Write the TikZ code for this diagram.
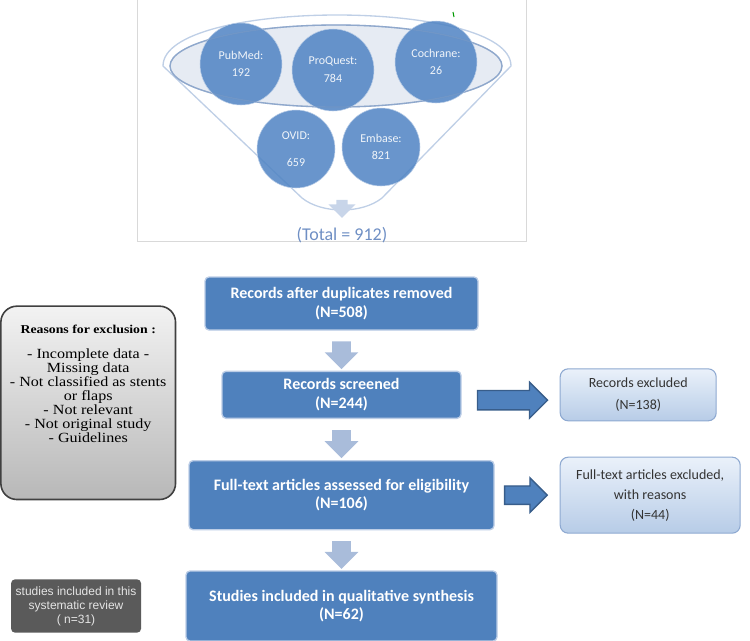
\documentclass[tikz,border=0pt]{standalone}
\usepackage{fontspec}
\setmainfont{Carlito}
\newfontfamily\reasonfont{Liberation Serif}[FakeStretch=1.15]
\newfontfamily\notefont{Liberation Sans}
\usepackage{tikz}
\usetikzlibrary{positioning,shapes.arrows}

\definecolor{boxblue}{HTML}{4F81BD}
\definecolor{edgeblue}{HTML}{BCCDE6}
\definecolor{arrdark}{HTML}{385D8A}
\definecolor{arrlight}{HTML}{A9BCDA}
\definecolor{funarr}{HTML}{C8D5E9}
\definecolor{funline}{HTML}{BFCFE6}
\definecolor{ellfill}{HTML}{E6EBF3}
\definecolor{elledge}{HTML}{8FA8CC}
\definecolor{dbblue}{HTML}{4F83C3}
\definecolor{totalblue}{HTML}{6F8FC4}
\definecolor{exctop}{HTML}{EAF1FA}
\definecolor{excbot}{HTML}{B7CCE7}
\definecolor{excedge}{HTML}{8EA9D1}
\definecolor{framegray}{HTML}{D9D9D9}
\definecolor{notegray}{HTML}{5A5A5A}

\begin{document}
\begin{tikzpicture}[
        x=0.75pt, y=-0.75pt,
        stage/.style={draw=edgeblue, line width=1pt, fill=boxblue, rounded corners=3pt, align=center,
            text=white, font=\fontsize{12}{14}\selectfont\bfseries},
        excl/.style={draw=excedge, line width=0.8pt, top color=exctop, bottom color=excbot, rounded corners=6pt,
            align=center, text=black!80, font=\fontsize{10.5}{15}\selectfont},
        reasonbox/.style={draw=black!75, line width=1.2pt, top color=black!5, bottom color=black!28, rounded corners=12pt,
            align=center, font=\reasonfont\fontsize{10.5}{10.5}\selectfont},
        note/.style={fill=notegray, rounded corners=3pt, align=center, text=black!10,
            font=\notefont\fontsize{9}{10.5}\selectfont},
        db/.style={circle, draw=white!60!dbblue, fill=dbblue, fill opacity=0.85, text opacity=1, text=white!92!dbblue,
            align=center, minimum size=61.5pt, inner sep=0pt, font=\fontsize{9}{13}\selectfont},
        downarr/.style={single arrow, shape border rotate=270, fill=arrlight, minimum height=20pt, minimum width=25pt,
            single arrow head extend=5.75pt, inner sep=6.75pt},
        sidearr/.style={single arrow, draw=arrdark, fill=boxblue, line width=1pt}
    ]
        \useasboundingbox (0,0) rectangle (750,640);

        % funnel of the searched databases
        \draw[framegray] (137,0) -- (137,241) -- (526,241) -- (526,0);
        \draw[funline, line width=1pt] (163,66) .. controls (163,-2) and (511,-2) .. (511,66)
            -- (382,198) .. controls (362,214) and (322,214) .. (302,198) -- cycle;
        \draw[elledge, fill=ellfill, line width=1pt] (336,66) ellipse[x radius=166, y radius=41];
        \draw[green!60!black, line width=0.8pt] (453,12) -- (454,17);

        \node[db] (pubmed) at (241,64) {PubMed:\\192};
        \node[db] (proquest) at (333,70) {ProQuest:\\[0.5pt]784};
        \node[db] (cochrane) at (436,62) {Cochrane:\\26};
        \node[db, minimum size=58.5pt] (ovid) at (296,149) {OVID:\\[7pt]659};
        \node[db, minimum size=58.5pt] (embase) at (381,147) {Embase:\\821};
        \draw[elledge, opacity=0.45, line width=1pt] (336,66) ellipse[x radius=166, y radius=41];
        \node[downarr, fill=funarr, minimum height=13.5pt, minimum width=20pt, single arrow head extend=5.9pt, inner sep=4.1pt] (funnel) at (342,206) {};
        \node[font=\fontsize{13.5}{15}\selectfont, text=totalblue] (total) at (342,235) {(Total = 912)};

        % main flow
        \node[stage, minimum width=204.75pt, minimum height=39.75pt] (rec) at (341.5,303.5) {Records after duplicates removed\\(N=508)};
        \node[stage, below=30pt of rec, minimum width=179.25pt, minimum height=35.25pt] (scr) {Records screened\\(N=244)};
        \node[stage, below=30.75pt of scr, minimum width=228.75pt, minimum height=51.75pt] (full) {Full-text articles assessed for eligibility\\(N=106)};
        \node[stage, below=30pt of full, minimum width=233.25pt, minimum height=52.5pt] (incl) {Studies included in qualitative synthesis\\(N=62)};

        \node[excl, right=73.5pt of scr, minimum width=117pt, minimum height=39pt] (rex) {Records excluded\\[1.5pt](N=138)};
        \node[excl, right=48.75pt of full, minimum width=135pt, minimum height=57pt] (ftex) {Full-text articles excluded,\\with reasons\\(N=44)};

        \node[reasonbox, left=33.75pt of scr, yshift=-6pt, minimum width=131pt, minimum height=145pt] (why)
            {{\fontsize{9}{10.5}\selectfont\bfseries Reasons for exclusion :}\\[8pt]- Incomplete data -\\Missing data\\- Not classified as stents\\or flaps\\- Not relevant\\- Not original study\\- Guidelines\\[18pt]~};
        \node[note, left=33pt of incl, minimum width=97.5pt, minimum height=40pt] (review) {studies included in this\\systematic review\\( n=31)};

        \path (rec) -- (scr) node[downarr, midway] (d1) {};
        \path (scr) -- (full) node[downarr, midway] (d2) {};
        \path (full) -- (incl) node[downarr, midway] (d3) {};
        \path (scr) -- (rex) node[sidearr, pos=0.47, yshift=-4pt, minimum height=52.5pt, minimum width=26pt, single arrow head extend=6.25pt, inner sep=6.75pt] (a1) {};
        \path (full) -- (ftex) node[sidearr, pos=0.41, minimum height=32pt, minimum width=25pt, single arrow head extend=6.1pt, inner sep=6.4pt] (a2) {};
    \end{tikzpicture}
\end{document}
